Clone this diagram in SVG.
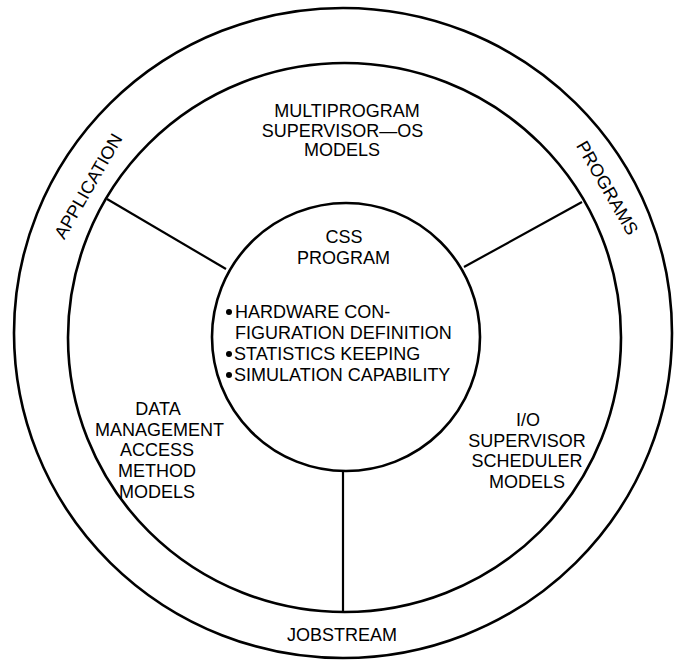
<svg xmlns="http://www.w3.org/2000/svg" width="681" height="662" viewBox="0 0 681 662">
<style>
.ring{fill:none;stroke:#000;stroke-width:2.6}
.spoke{fill:none;stroke:#000;stroke-width:2.2}
text{font-family:"Liberation Sans",Arial,sans-serif;font-size:18px;fill:#000}
.c{text-anchor:middle}
</style>
<rect width="681" height="662" fill="#fff"/>
<g id="outer-ring">
<ellipse class="ring" cx="343" cy="333" rx="329" ry="325"/>
<text class="c" transform="translate(93.6,189.3) rotate(-60)" font-size="19">APPLICATION</text>
<text class="c" transform="translate(602,191) rotate(60)">PROGRAMS</text>
<text class="c" x="342" y="641">JOBSTREAM</text>
</g>
<g id="middle-ring">
<ellipse class="ring" cx="344.5" cy="337.5" rx="276.5" ry="274.5"/>
</g>
<g id="multiprogram">
<text class="c" x="347" y="117">MULTIPROGRAM</text>
<text class="c" x="342.5" y="137">SUPERVISOR—OS</text>
<text class="c" x="342" y="156">MODELS</text>
</g>
<g id="data-management">
<text class="c" x="158" y="415">DATA</text>
<text class="c" x="159.5" y="436">MANAGEMENT</text>
<text class="c" x="157" y="456">ACCESS</text>
<text class="c" x="157" y="477">METHOD</text>
<text class="c" x="157" y="498">MODELS</text>
</g>
<g id="io-supervisor">
<text class="c" x="528" y="426">I/O</text>
<text class="c" x="527" y="447">SUPERVISOR</text>
<text class="c" x="527" y="467">SCHEDULER</text>
<text class="c" x="527" y="488">MODELS</text>
</g>
<g id="css-program">
<circle class="ring" cx="346" cy="337" r="134"/>
<text class="c" x="344" y="243">CSS</text>
<text class="c" x="343.5" y="264">PROGRAM</text>
<g font-size="19">
<circle cx="229" cy="312" r="3"/>
<text x="235" y="318" font-size="19">HARDWARE CON-</text>
<text x="235" y="339" font-size="19">FIGURATION DEFINITION</text>
<circle cx="229" cy="354" r="3"/>
<text x="234" y="360" font-size="19">STATISTICS KEEPING</text>
<circle cx="229" cy="375" r="3"/>
<text x="234" y="381" font-size="19">SIMULATION CAPABILITY</text>
</g>
</g>
<g id="connectors">
<line class="spoke" x1="107" y1="199" x2="226" y2="269"/>
<line class="spoke" x1="582" y1="202" x2="464" y2="267"/>
<line class="spoke" x1="343" y1="471" x2="343" y2="612"/>
</g>
</svg>
